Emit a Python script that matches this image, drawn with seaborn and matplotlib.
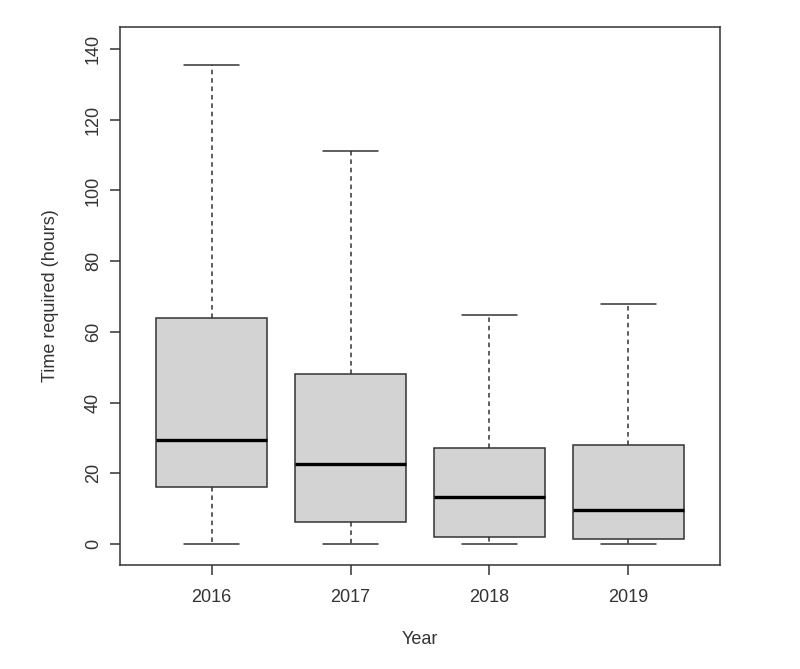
import numpy as np
import pandas as pd
import matplotlib
matplotlib.use("Agg")
import matplotlib.pyplot as plt
import seaborn as sns

years = ["2016", "2017", "2018", "2019"]
mins = [0.0, 0.0, 0.0, 0.0]
q1s = [16.1, 6.2, 2.0, 1.4]
medians = [29.4, 22.6, 13.3, 9.6]
q3s = [63.9, 48.1, 27.1, 28.0]
maxs = [135.5, 111.1, 64.8, 67.9]
yticks = [0, 20, 40, 60, 80, 100, 120, 140]

rows = []
for y, a, b, c, d, e in zip(years, mins, q1s, medians, q3s, maxs):
    for v in (a, b, c, d, e):
        rows.append({"Year": y, "Time": v})
df = pd.DataFrame(rows)

sns.set_style("ticks")
plt.rcParams["font.family"] = ["Liberation Sans", "DejaVu Sans"]

fig = plt.figure(figsize=(8.0, 6.69), dpi=100)
ax = fig.add_axes([0.15, 0.1555, 0.75, 0.804])

edge = "#333333"
sns.boxplot(data=df, x="Year", y="Time", order=years, whis=np.inf,
            width=0.8, color="#D3D3D3", linecolor=edge, linewidth=1.0,
            saturation=1, ax=ax,
            boxprops=dict(edgecolor=edge, linewidth=1.1, facecolor="#D3D3D3"),
            whiskerprops=dict(linestyle=(0, (3, 2.5)), color=edge, linewidth=1.1),
            capprops=dict(color=edge, linewidth=1.1),
            medianprops=dict(color="black", linewidth=2.4))

ax.set_xlim(-0.66, 3.66)
ax.set_ylim(-5.9, 146.2)
ax.set_yticks(yticks)
ax.set_yticklabels([str(t) for t in yticks], rotation=90, va="center")
for s in ax.spines.values():
    s.set_visible(True)
    s.set_color(edge)
    s.set_linewidth(1.1)
ax.tick_params(axis="both", length=7, width=1.1, color=edge, labelcolor="#333333", labelsize=13)
ax.tick_params(axis="y", pad=6)
ax.tick_params(axis="x", pad=10)
ax.set_xlabel("Year", fontsize=13, color="#333333", labelpad=18)
ax.set_ylabel("Time required (hours)", fontsize=13, color="#333333", labelpad=19)
ax.grid(False)

fig.savefig("out.png", dpi=100)
